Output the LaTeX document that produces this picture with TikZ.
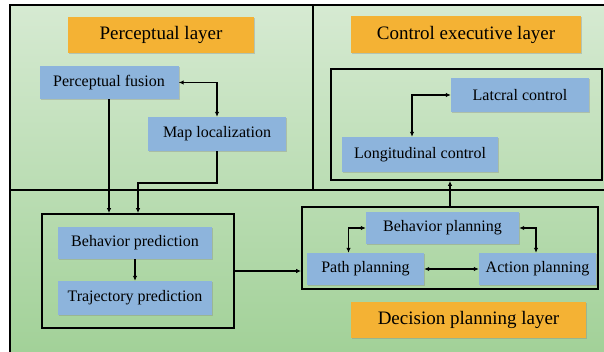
\documentclass[tikz,border=0pt]{standalone}
\usepackage{fontspec}
\setmainfont{Liberation Serif}
\usetikzlibrary{arrows.meta,shadows,calc}
\definecolor{bgtop}{RGB}{214,234,210}
\definecolor{bgbot}{RGB}{162,209,152}
\definecolor{orangebox}{RGB}{244,178,52}
\definecolor{bluebox}{RGB}{141,180,220}
\tikzset{
  layerbox/.style={fill=orangebox, draw=none, anchor=center, inner sep=0pt,
    font=\fontsize{19}{22}\selectfont,
    drop shadow={shadow xshift=1.2pt, shadow yshift=-1.2pt, opacity=0.35}},
  taskbox/.style={fill=bluebox, draw=none, anchor=center, inner sep=0pt,
    font=\fontsize{16}{19}\selectfont,
    drop shadow={shadow xshift=1.2pt, shadow yshift=-1.2pt, opacity=0.35}},
  groupframe/.style={draw=black, line width=1.8pt, fill=none, inner sep=0pt, anchor=center},
  divline/.style={draw=black, line width=1.2pt},
  conn/.style={draw=black, line width=1.3pt, -{Latex[length=5pt,width=4.5pt]}},
  biconn/.style={draw=black, line width=1.3pt, {Latex[length=5pt,width=4.5pt]}-{Latex[length=5pt,width=4.5pt]}},
}
\begin{document}
\begin{tikzpicture}[x=1pt,y=-1pt]
\useasboundingbox (0,0) rectangle (604,352);
\fill[white] (0,0) rectangle (604,352);
\shade[top color=bgtop, bottom color=bgbot] (10,5) rectangle (604,352);
% outer frame and dividers
\draw[divline] (604,5) -- (10,5) -- (10,352);
\draw[divline] (10,190) -- (604,190);
\draw[divline] (313,5) -- (313,190);

% group frames
\node[groupframe, minimum width=192pt, minimum height=114pt] (pred) at (138,271) {};
\node[groupframe, minimum width=271pt, minimum height=111pt] (ctrl) at (466.5,124.5) {};
\node[groupframe, minimum width=296pt, minimum height=82pt] (plan) at (450,248) {};

% layer titles
\node[layerbox, minimum width=186pt, minimum height=36pt] (tpl) at (161,35) {Perceptual layer};
\node[layerbox, minimum width=230pt, minimum height=37pt] (tcl) at (466,34.5) {Control executive layer};
\node[layerbox, minimum width=235pt, minimum height=36pt] (tdl) at (468.5,320) {Decision planning layer};

% task boxes
\node[taskbox, minimum width=139pt, minimum height=33pt] (pf) at (109,82.5) {Perceptual fusion};
\node[taskbox, minimum width=138pt, minimum height=34pt] (ml) at (217,134) {Map localization};
\node[taskbox, minimum width=154pt, minimum height=32pt] (bp) at (135,243) {Behavior prediction};
\node[taskbox, minimum width=154pt, minimum height=34pt] (tp) at (135,298) {Trajectory prediction};
\node[taskbox, minimum width=138pt, minimum height=34pt] (lat) at (520,95) {Latcral control};
\node[taskbox, minimum width=156pt, minimum height=35pt] (lon) at (420,154.5) {Longitudinal control};
\node[taskbox, minimum width=153pt, minimum height=32pt] (bpl) at (442.5,228) {Behavior planning};
\node[taskbox, minimum width=117pt, minimum height=32pt] (path) at (365.5,269) {Path planning};
\node[taskbox, minimum width=117pt, minimum height=32pt] (act) at (537.5,269) {Action planning};

% connectors
\coordinate (mlbend) at (138,183);
\draw[biconn] (pf.east) -| (ml.north);
\draw[conn] (pf.south) -- (pf.south |- pred.north);
\draw[conn] (ml.south) |- (mlbend) -- (mlbend |- pred.north);
\draw[conn] (bp.south) -- (tp.north);
\draw[conn] (pred.east) -- (pred.east -| plan.west);
\draw[conn] (plan.north) -- (plan.north |- ctrl.south);
\draw[biconn] (lat.west) -| ([xshift=-8pt]lon.north);
\draw[biconn] (bpl.west) -| ([xshift=-17pt]path.north);
\draw[biconn] (bpl.east) -| ([xshift=-1.5pt]act.north);
\draw[biconn] (path.east) -- (act.west);
\end{tikzpicture}
\end{document}
